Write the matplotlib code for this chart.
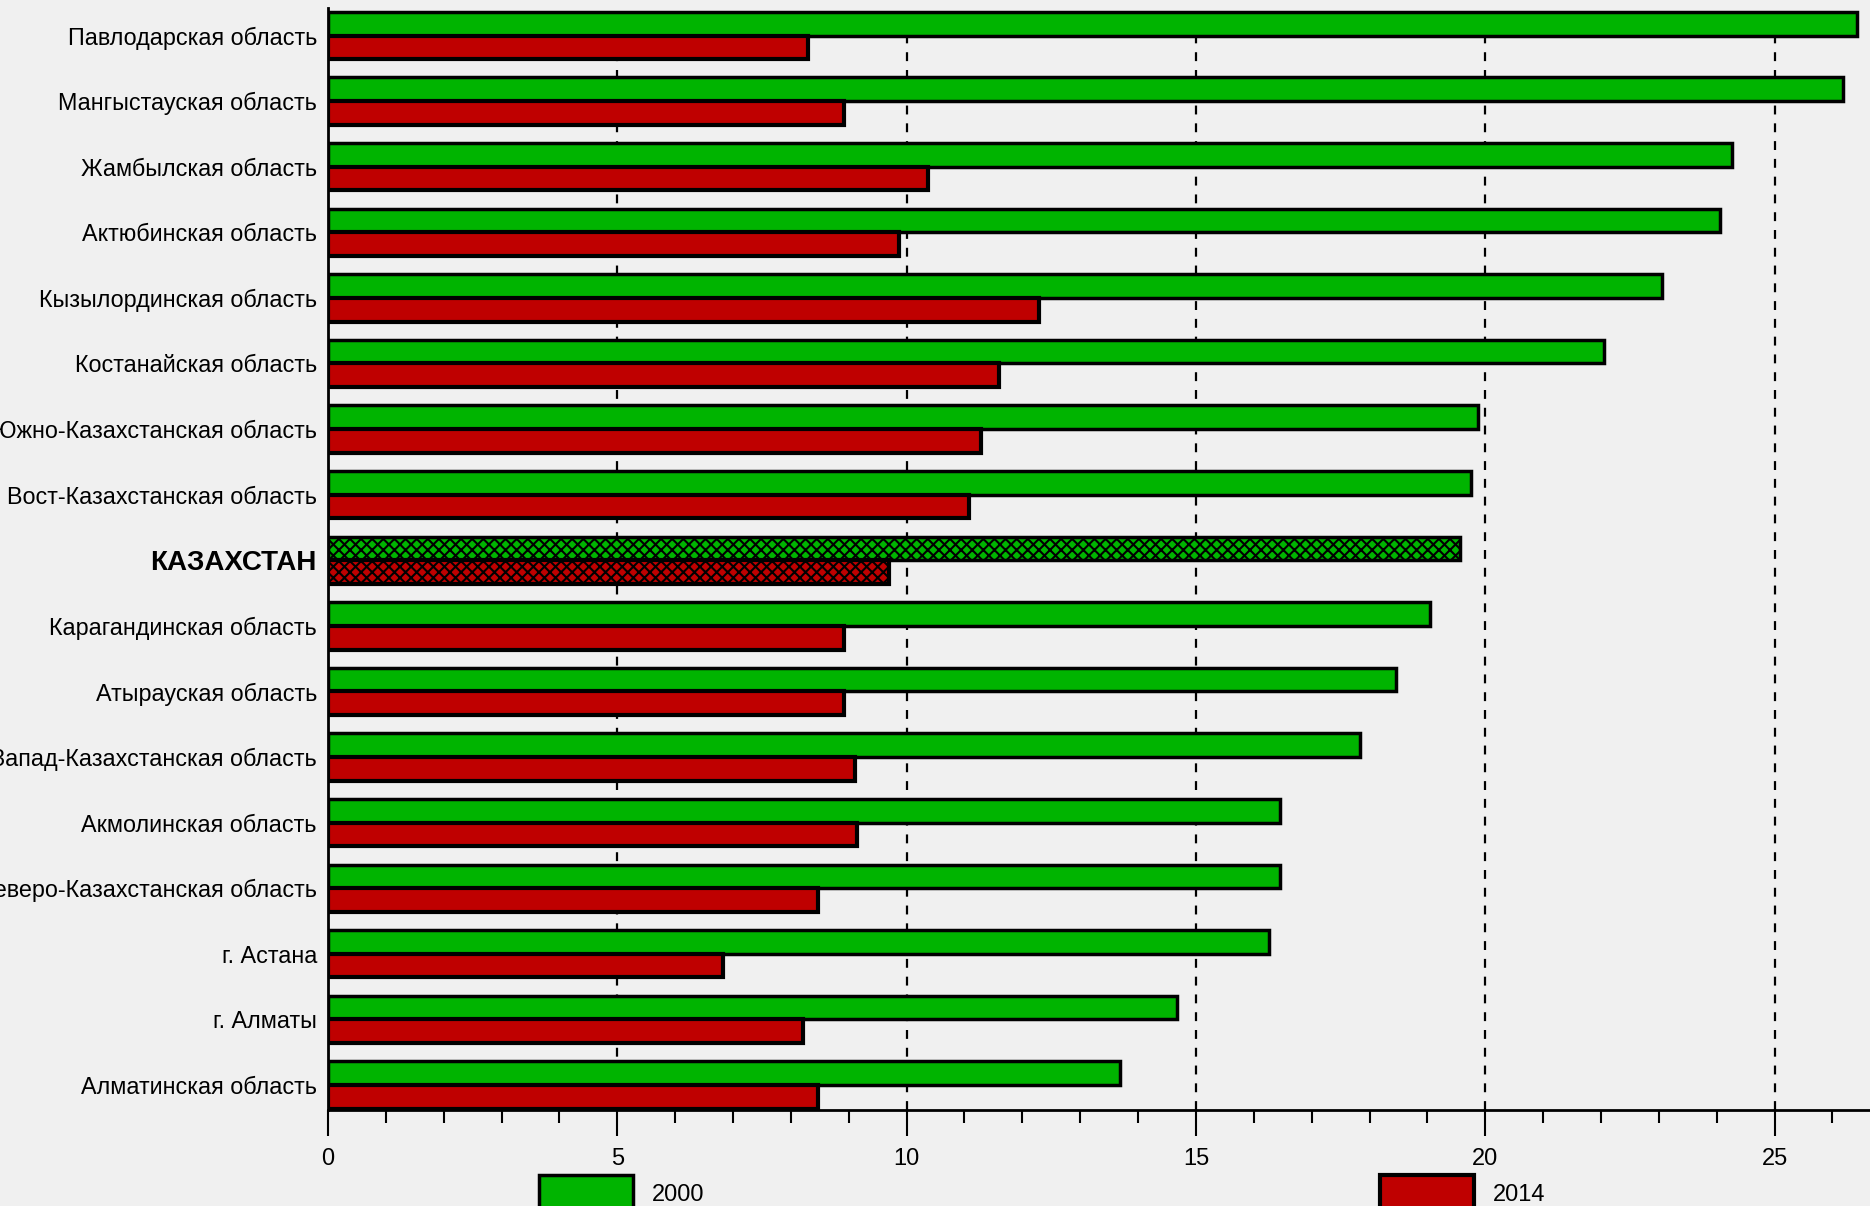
import numpy as np
import matplotlib.pyplot as plt

regions = ['Павлодарская область', 'Мангыстауская область', 'Жамбылская область',
           'Актюбинская область', 'Кызылординская область', 'Костанайская область',
           'Южно-Казахстанская область', 'Вост-Казахстанская область', 'КАЗАХСТАН',
           'Карагандинская область', 'Атырауская область', 'Запад-Казахстанская область',
           'Акмолинская область', 'Северо-Казахстанская область', 'г. Астана',
           'г. Алматы', 'Алматинская область']
val_2000 = [26.43, 26.19, 24.27, 24.06, 23.05, 22.06, 19.88, 19.75, 19.57,
            19.05, 18.45, 17.84, 16.45, 16.45, 16.27, 14.68, 13.69]
val_2014 = [8.29, 8.91, 10.37, 9.86, 12.29, 11.59, 11.28, 11.07, 9.69,
            8.91, 8.91, 9.11, 9.15, 8.47, 6.82, 8.21, 8.47]
years = ['2000', '2014']

plt.rcParams['font.family'] = ['Liberation Sans', 'DejaVu Sans']
plt.rcParams['hatch.linewidth'] = 1.5

bg = '#f0f0f0'
green = '#00b400'
red = '#bf0000'

fig = plt.figure(figsize=(18.7, 12.06), dpi=100, facecolor=bg)
ax = fig.add_axes([0.1754, 0.0796, 1 - 0.1754, 0.9934 - 0.0796])
ax.set_facecolor(bg)

y = np.arange(len(regions))
h = 0.36
b1 = ax.barh(y - h / 2, val_2000, height=h, color=green, edgecolor='black', linewidth=2.5, zorder=3)
b2 = ax.barh(y + h / 2, val_2014, height=h, color=red, edgecolor='black', linewidth=3, zorder=3)

# the country total is hatched
kz = regions.index('КАЗАХСТАН')
b1[kz].set_hatch('xxx')
b2[kz].set_hatch('xxx')

ax.set_ylim(len(regions) - 1 + 0.38, -0.42)
ax.set_xlim(0, 26.65)

ax.set_xticks(range(0, 26, 5))
ax.set_xticks(range(0, 27), minor=True)
ax.tick_params(axis='x', which='major', length=19, width=1.5, labelsize=17, pad=8)
ax.tick_params(axis='x', which='minor', length=9, width=1.5)
ax.grid(axis='x', which='major', color='black', linestyle=(0, (4, 4)), linewidth=1.6)
ax.set_axisbelow(True)

ax.set_yticks(y)
ax.set_yticklabels(regions, fontsize=16.8)
ax.tick_params(axis='y', length=0, pad=8)
lbl = ax.get_yticklabels()[kz]
lbl.set_fontweight('bold')
lbl.set_fontsize(20)

for s in ['top', 'right']:
    ax.spines[s].set_visible(False)
for s in ['left', 'bottom']:
    ax.spines[s].set_linewidth(2)

# two separate legend entries along the bottom edge
for cont, name, xpos in [(b1, years[0], 539), (b2, years[1], 1380)]:
    fig.legend(handles=[cont], labels=[name], loc='upper left',
               bbox_to_anchor=(xpos / 1870, 1 - 1175 / 1206), frameon=False,
               borderpad=0, borderaxespad=0, handlelength=4.0, handleheight=2.0,
               handletextpad=0.8, fontsize=17)

fig.savefig('out.png', dpi=100, facecolor=bg)
